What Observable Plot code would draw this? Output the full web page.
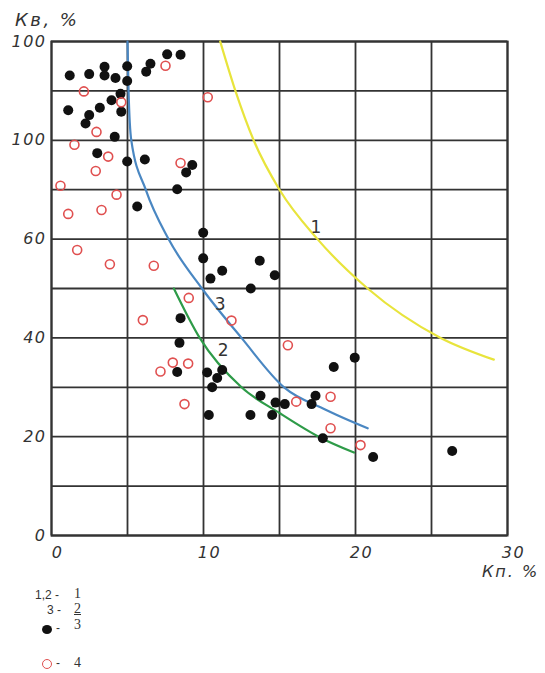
<!DOCTYPE html>
<html>
<head>
<meta charset="utf-8">
<script src="https://cdn.jsdelivr.net/npm/d3@7"></script>
<script src="https://cdn.jsdelivr.net/npm/@observablehq/plot@0.6"></script>
<style>
  body { margin: 0; background: #fff; }
  #wrap { position: relative; width: 545px; height: 673px; overflow: hidden; }
  #title { height: 36px; position: relative; }
  #title span { position: absolute; left: 15px; top: 9px; font: italic 18px "DejaVu Sans"; letter-spacing: 2.5px; color: #333; }
  #xlabel { position: absolute; left: 482px; top: 562px; font: italic 16px "DejaVu Sans"; letter-spacing: 2px; color: #333; white-space: nowrap; }
  .lg { position: absolute; font: 12px "Liberation Sans"; color: #333; white-space: nowrap; }
  .num { position: absolute; font: 14px "Liberation Serif"; color: #333; }
  .sym { position: absolute; box-sizing: border-box; border-radius: 50%; }
  svg text.tk { font-style: italic !important; font-family: "DejaVu Sans" !important; letter-spacing: 1.5px; }
</style>
</head>
<body>
<div id="wrap">
  <div id="title"><span>Кв, %</span></div>
  <div id="chart"></div>
  <div id="xlabel">Кп. %</div>
  <div class="lg" style="left:35px; top:588px;">1,2 -</div>
  <div class="num" style="left:74px; top:586px;">1</div>
  <div class="lg" style="left:47px; top:603px;">3 -</div>
  <div class="num" style="left:74px; top:601px; text-decoration: underline;">2</div>
  <div class="sym" style="left:42px; top:625px; width:10px; height:9px; background:#111;"></div>
  <div class="lg" style="left:56px; top:621px;">-</div>
  <div class="num" style="left:74px; top:617px;">3</div>
  <div class="sym" style="left:42px; top:659px; width:10px; height:10px; border:1.6px solid #e05050;"></div>
  <div class="lg" style="left:56px; top:656px;">-</div>
  <div class="num" style="left:74px; top:655px;">4</div>
</div>
<script>
// Axis ticks
const xTicks = [0, 10, 20, 30];
const xGridTicks = [0, 5, 10, 15, 20, 25, 30];
const yTicks = [0, 20, 40, 60, 80, 100];
const yTickLabels = ["0", "20", "40", "60", "100", "100"];
const yGridTicks = [0, 10, 20, 30, 40, 50, 60, 70, 80, 90, 100];

// Series 3: filled black points
const blackX = [1.20, 2.48, 3.49, 3.49, 4.21, 4.98, 4.98, 6.23, 6.51, 7.61, 8.49, 4.54, 3.95, 4.59, 1.10, 3.18, 2.48, 2.24, 4.16, 3.01, 4.98, 6.14, 8.86, 9.26, 8.27, 5.64, 8.49, 8.42, 8.27, 9.98, 9.98, 13.70, 11.23, 10.46, 14.69, 13.11, 19.95, 18.57, 10.24, 11.23, 10.90, 10.57, 10.35, 13.09, 13.75, 14.52, 14.74, 15.35, 17.11, 17.37, 17.85, 21.16, 26.36];
const blackY = [93.1, 93.4, 94.9, 93.1, 92.6, 95.0, 92.0, 93.9, 95.5, 97.4, 97.3, 89.4, 88.1, 85.8, 86.1, 86.6, 85.1, 83.4, 80.7, 77.4, 75.7, 76.1, 73.5, 75.0, 70.1, 66.6, 44.0, 39.0, 33.1, 61.3, 56.1, 55.6, 53.6, 52.0, 52.7, 50.0, 36.0, 34.1, 33.0, 33.5, 31.9, 30.0, 24.4, 24.4, 28.3, 24.4, 26.9, 26.6, 26.6, 28.3, 19.7, 15.9, 17.1];

// Series 4: open red circles
const redX = [7.50, 2.13, 4.59, 2.96, 1.51, 3.73, 2.91, 8.49, 0.59, 4.28, 10.28, 1.10, 3.29, 1.69, 3.84, 6.73, 9.03, 6.01, 7.98, 8.99, 7.17, 11.84, 15.55, 8.75, 16.10, 18.36, 18.36, 20.33];
const redY = [95.1, 89.9, 87.7, 81.7, 79.1, 76.7, 73.8, 75.4, 70.8, 69.0, 88.7, 65.1, 65.9, 57.8, 54.9, 54.6, 48.1, 43.6, 35.0, 34.8, 33.2, 43.5, 38.5, 26.6, 27.1, 28.1, 21.7, 18.3];

// Curves 1, 2, 3
const curve1X = [11.1, 12.1, 13.3, 15.0, 17.5, 20.8, 25.6, 29.1];
const curve1Y = [100, 90, 80, 70, 60, 50, 40, 35.6];
const curve2X = [8.05, 9.75, 12.5, 15.0, 17.7, 19.9];
const curve2Y = [50, 40, 30, 24.8, 19.8, 16.8];
const curve3X = [5.0, 5.07, 5.25, 6.2, 7.7, 9.9, 12.5, 15.3, 18.0, 20.8];
const curve3Y = [100, 90, 80, 70, 60, 50, 40, 30, 25.5, 21.7];

const curveLabelText = ["1", "2", "3"];
const curveLabelX = [17.4, 11.3, 11.1];
const curveLabelY = [62.3, 37.4, 46.7];

const zip = (xs, ys) => xs.map((x, i) => ({x, y: ys[i]}));
const black = zip(blackX, blackY);
const red = zip(redX, redY);
const c1 = zip(curve1X, curve1Y);
const c2 = zip(curve2X, curve2Y);
const c3 = zip(curve3X, curve3Y);
const curveLabels = curveLabelText.map((t, i) => ({t, x: curveLabelX[i], y: curveLabelY[i]}));

const chart = Plot.plot({
  width: 545,
  height: 527,
  marginTop: 5,
  marginBottom: 28,
  marginLeft: 51,
  marginRight: 38,
  x: {domain: [0, 30]},
  y: {domain: [0, 100]},
  style: {fontFamily: "DejaVu Sans", fontSize: "16px", color: "#333", background: "white", overflow: "visible"},
  marks: [
    Plot.gridX(xGridTicks, {stroke: "#333", strokeOpacity: 1, strokeWidth: 1.8}),
    Plot.gridY(yGridTicks, {stroke: "#333", strokeOpacity: 1, strokeWidth: 1.8}),
    Plot.frame({stroke: "#333", strokeWidth: 2}),
    Plot.axisX(xTicks, {tickSize: 0, tickPadding: 11, dx: 6, tickFormat: d => String(d), label: null}),
    Plot.axisY(yTicks, {tickSize: 0, tickPadding: 5, tickFormat: d => yTickLabels[yTicks.indexOf(d)], label: null}),
    Plot.line(c1, {x: "x", y: "y", stroke: "#e8e43c", strokeWidth: 2.2, curve: "monotone-x"}),
    Plot.line(c3, {x: "x", y: "y", stroke: "#4a87c2", strokeWidth: 2.2, curve: "monotone-x"}),
    Plot.line(c2, {x: "x", y: "y", stroke: "#2e9b48", strokeWidth: 2.2, curve: "monotone-x"}),
    Plot.dot(black, {x: "x", y: "y", r: 5, fill: "#111", stroke: "none"}),
    Plot.dot(red, {x: "x", y: "y", r: 4.5, fill: "none", stroke: "#e05050", strokeWidth: 1.6}),
    Plot.text(curveLabels, {x: "x", y: "y", text: "t", fontSize: 17, fill: "#333"})
  ]
});
// italic, slightly spaced tick labels (curve labels stay upright)
d3.select(chart).selectAll("text").each(function() {
  if (!curveLabelText.includes(this.textContent)) {
    this.classList.add("tk");
    this.setAttribute("font-style", "italic");
  }
});
document.getElementById("chart").appendChild(chart);
</script>
</body>
</html>
